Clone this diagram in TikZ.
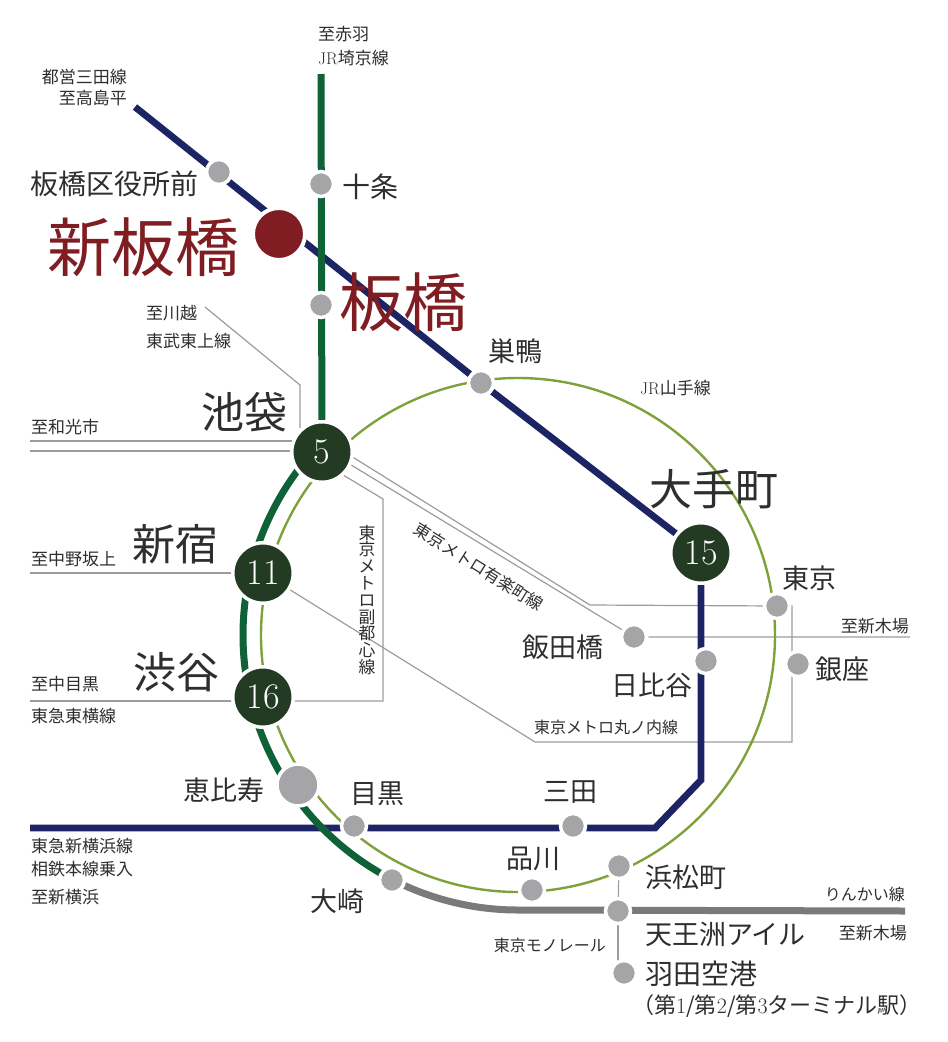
\documentclass[tikz,border=0pt]{standalone}
\usepackage{fontspec}
\usepackage{tikz}
\usetikzlibrary{backgrounds}
\newfontfamily\jp{Noto Sans CJK JP}
\newcommand{\jpsize}[1]{\jp\fontsize{#1}{#1}\selectfont}
\definecolor{mitanavy}{HTML}{1D2464}
\definecolor{saikyogreen}{HTML}{0F6238}
\definecolor{yamanotegreen}{HTML}{7FA13C}
\definecolor{hubgreen}{HTML}{233B23}
\definecolor{stagray}{HTML}{A5A5A7}
\definecolor{rinkaigray}{HTML}{7A7A7A}
\definecolor{thingray}{HTML}{9C9C9C}
\definecolor{itared}{HTML}{7F1D22}
\definecolor{inktext}{HTML}{2E2E2E}
\begin{document}
\begin{tikzpicture}[x = 1pt, y = -1pt,
                      sta/.style = {circle, draw = white, fill = stagray, line width = 3.5pt, minimum size = 25pt, inner sep = 0pt},
                      hub/.style = {circle, draw = white, fill = hubgreen, line width = 3.5pt, minimum size = 60.5pt, inner sep = 0pt, text = white, font = \rmfamily\fontsize{36}{36}\selectfont},
                      home/.style = {circle, draw = white, fill = itared, line width = 4pt, minimum size = 52pt, inner sep = 0pt},
                      thickline/.style = {line width = 6.8pt},
                      thinline/.style = {draw = thingray, line width = 1.2pt},
                      smalltxt/.style = {inner sep = 0pt, text = inktext, font = \jpsize{17}},
                      statxt/.style = {inner sep = 0pt, text = inktext, font = \jpsize{27}},
                      majortxt/.style = {inner sep = 0pt, text = inktext, font = \jpsize{43}},
                      redtxt/.style = {inner sep = 0pt, text = itared, font = \jpsize{64}}]
    \useasboundingbox (0, 0) rectangle (948, 1042);
    % stations
    \node [sta] (kuyakusho) at (219, 172){};
    \node [home] (shinitabashi) at (279, 234){};
    \node [sta] (jujo) at (321, 184){};
    \node [sta] (itabashi) at (321, 305){};
    \node [sta] (sugamo) at (481, 383){};
    \node [hub] (ikebukuro) at (322, 452){5};
    \node [hub] (shinjuku) at (263, 573){11};
    \node [hub] (shibuya) at (263, 697){16};
    \node [hub] (otemachi) at (701, 553){15};
    \node [sta, minimum size = 42pt] (ebisu) at (298, 785){};
    \node [sta] (meguro) at (354, 826){};
    \node [sta] (osaki) at (392, 880){};
    \node [sta] (shinagawa) at (532, 890){};
    \node [sta] (mita) at (573, 826){};
    \node [sta] (hamamatsucho) at (619, 866){};
    \node [sta] (tennozu) at (618, 911){};
    \node [sta] (haneda) at (624, 973){};
    \node [sta] (hibiya) at (706, 661){};
    \node [sta] (iidabashi) at (634, 637){};
    \node [sta] (tokyo) at (777, 606){};
    \node [sta] (ginza) at (798, 664){};
    % free ends and the two ring arcs
    \coordinate (ring) at (518, 635);
    \coordinate (saia) at ([shift = {(137:275pt)}]ring);
    \coordinate (rina) at ([shift = {(243:275pt)}]ring);
    \coordinate (saitop) at (321, 74);
    \coordinate (mitatop) at (135, 107);
    \coordinate (bendb) at (701, 780);
    \coordinate (bendc) at (655, 828);
    \coordinate (shinyoko) at (30, 828);
    \coordinate (rinend) at (905, 911);
    \coordinate (tobua) at (205, 307);
    \coordinate (tobub) at (300, 385);
    \coordinate (tobuc) at (300, 428);
    \coordinate (wakoa) at (30, 441);
    \coordinate (wakob) at (30, 451);
    \coordinate (nakano) at (30, 573);
    \coordinate (toyoko) at (30, 701);
    \coordinate (fukua) at (383, 701);
    \coordinate (fukub) at (383, 499);
    \coordinate (marua) at (535, 742);
    \coordinate (marub) at (792, 742);
    \coordinate (maruc) at (792, 606);
    \coordinate (yuraa) at (590, 605);
    \coordinate (shinkiba) at (910, 637);
    \begin{scope}[on background layer]
    \draw [thinline] (tobua) -- (tobub) -- (tobuc);
    \draw [thinline] (wakoa) -- (wakoa -| ikebukuro);
    \draw [thinline] (wakob) -- (wakob -| ikebukuro);
    \draw [thinline] (nakano) -- (shinjuku);
    \draw [thinline] (toyoko) -- (toyoko -| shibuya);
    \draw [thinline] (shibuya |- fukua) -- (fukua) -- (fukub) -- (ikebukuro.-47);
    \draw [thinline] (shinjuku) -- (marua) -- (marub) -- (maruc) -- (tokyo);
    \draw [thinline] (ikebukuro.-10) -- (yuraa) -- (tokyo);
    \draw [thinline] (ikebukuro.-24) -- (iidabashi) -- (shinkiba);
    \draw [thinline] (hamamatsucho) -- (tennozu);
    \draw [thinline] (tennozu) -- (tennozu |- haneda);
    \draw [draw = yamanotegreen, line width = 2.4pt] (ring) circle [radius = 257pt];
    \draw [thickline, draw = mitanavy] (mitatop) -- (sugamo) -- (otemachi);
    \draw [thickline, draw = mitanavy] (otemachi) -- (bendb) -- (bendc) -- (shinyoko);
    \draw [thickline, draw = saikyogreen, line width = 7pt] (saitop) -- (ikebukuro);
    \draw [thickline, draw = saikyogreen, line width = 7pt] (saia) arc [start angle = 137, end angle = 243, radius = 275pt];
    \draw [thickline, draw = rinkaigray, line width = 7pt] (rina) arc [start angle = 243, end angle = 270, radius = 275pt] -- (rinend);
    \end{scope}
    % names
    \node [redtxt] (t-shinitabashi) at (143, 247){新板橋};
    \node [redtxt] (t-itabashi) at (403, 302){板橋};
    \node [majortxt] (t-ikebukuro) at (244, 412){池袋};
    \node [majortxt] (t-otemachi) at (714, 489){大手町};
    \node [majortxt] (t-shinjuku) at (175, 544){新宿};
    \node [majortxt] (t-shibuya) at (176, 672){渋谷};
    \node [statxt, anchor = east, font = \jpsize{28}] (t-kuyakusho) at (199, 184){板橋区役所前};
    \node [statxt, anchor = west, font = \jpsize{28}] (t-jujo) at (342, 187){十条};
    \node [statxt] (t-sugamo) at (515, 351){巣鴨};
    \node [statxt] (t-tokyo) at (809, 578){東京};
    \node [statxt] (t-ginza) at (842, 669){銀座};
    \node [statxt] (t-iidabashi) at (563, 647){飯田橋};
    \node [statxt] (t-hibiya) at (652, 685){日比谷};
    \node [statxt] (t-ebisu) at (224, 790){恵比寿};
    \node [statxt] (t-meguro) at (377, 794){目黒};
    \node [statxt] (t-mita) at (570, 792){三田};
    \node [statxt] (t-shinagawa) at (533, 859){品川};
    \node [statxt] (t-osaki) at (337, 901){大崎};
    \node [statxt, anchor = west] (t-hamamatsucho) at (645, 877){浜松町};
    \node [statxt, anchor = west] (t-tennozu) at (645, 934){天王洲アイル};
    \node [statxt, anchor = west, font = \jpsize{28}] (t-haneda) at (645, 974){羽田空港};
    \node [smalltxt, anchor = west, font = \jpsize{22}] (t-terminal) at (632, 1006){（第{\rmfamily 1}/第{\rmfamily 2}/第{\rmfamily 3}ターミナル駅）};
    % line labels
    \node [smalltxt, anchor = east] (l-toei) at (127, 77){都営三田線};
    \node [smalltxt, anchor = east] (l-takashima) at (127, 98){至高島平};
    \node [smalltxt, anchor = west] (l-akabane) at (318, 34){至赤羽};
    \node [smalltxt, anchor = west] (l-saikyo) at (318, 58){{\rmfamily JR}埼京線};
    \node [smalltxt, anchor = west] (l-kawagoe) at (146, 313){至川越};
    \node [smalltxt, anchor = west] (l-tojo) at (146, 341){東武東上線};
    \node [smalltxt, anchor = west] (l-wako) at (31, 427){至和光市};
    \node [smalltxt, anchor = west] (l-yamanote) at (640, 388){{\rmfamily JR}山手線};
    \node [smalltxt, anchor = west] (l-nakano) at (31, 559){至中野坂上};
    \node [smalltxt, anchor = west] (l-nakameguro) at (31, 684){至中目黒};
    \node [smalltxt, anchor = west] (l-toyoko) at (31, 716){東急東横線};
    \node [smalltxt, anchor = west] (l-shinyoko) at (31, 846){東急新横浜線};
    \node [smalltxt, anchor = west] (l-sotetsu) at (31, 869){相鉄本線乗入};
    \node [smalltxt, anchor = west] (l-yokohama) at (31, 897){至新横浜};
    \node [smalltxt, anchor = east] (l-kiba) at (909, 626){至新木場};
    \node [smalltxt, anchor = east] (l-kibb) at (907, 933){至新木場};
    \node [smalltxt, anchor = east, font = \jpsize{16}] (l-rinkai) at (905, 894){りんかい線};
    \node [smalltxt, anchor = east, font = \jpsize{16}] (l-mono) at (606, 945){東京モノレール};
    \node [smalltxt, anchor = west, font = \jpsize{16}] (l-maru) at (534, 727){東京メトロ丸ノ内線};
    \node [smalltxt, rotate = -32, font = \jpsize{16.5}] (l-yura) at (479, 567){東京メトロ有楽町線};
    \node [smalltxt, align = center, font = \jpsize{16.8}] (l-fuku) at (367, 600){東\\京\\メ\\ト\\ロ\\副\\都\\心\\線};
\end{tikzpicture}
\end{document}
